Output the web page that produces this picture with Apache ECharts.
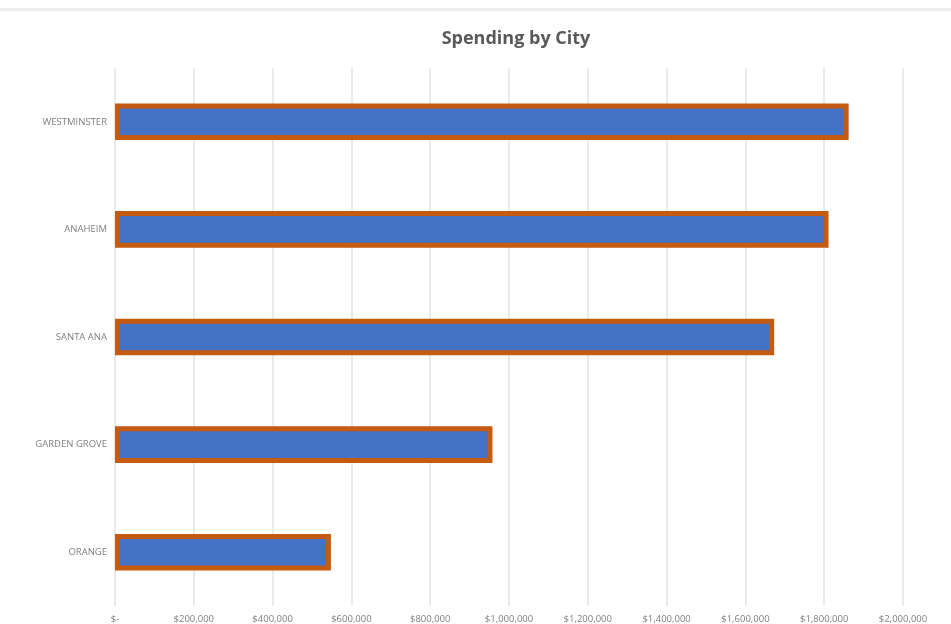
<!DOCTYPE html>
<html>
<head>
<meta charset="utf-8">
<script src="https://cdn.jsdelivr.net/npm/echarts@6/dist/echarts.min.js"></script>
<style>html,body{margin:0;padding:0;background:#fff;}#c{width:951px;height:624px;}</style>
</head>
<body>
<div id="c"></div>
<script>
const titleText = 'Spending by City';
const cities = ['ORANGE', 'GARDEN GROVE', 'SANTA ANA', 'ANAHEIM', 'WESTMINSTER'];
const spending = [548000, 958000, 1673000, 1811000, 1862000];
const axisMax = 2000000;
const axisStep = 200000;

const chart = echarts.init(document.getElementById('c'));
chart.setOption({
  backgroundColor: '#ffffff',
  title: {
    text: titleText,
    left: 511, top: 25, textAlign: 'center',
    textStyle: { fontFamily: 'Open Sans', fontWeight: 'bold', fontSize: 18, color: '#595959' }
  },
  graphic: [{
    type: 'rect', shape: { x: 0, y: 8, width: 951, height: 3 },
    style: { fill: '#ececec' }
  }],
  grid: { left: 115, right: 48, top: 68, bottom: 17, containLabel: false },
  xAxis: {
    type: 'value', min: 0, max: axisMax, interval: axisStep,
    axisLine: { show: false }, axisTick: { show: false },
    splitLine: { show: true, lineStyle: { color: '#e3e3e3', width: 1.5 } },
    axisLabel: {
      fontFamily: 'Open Sans', fontSize: 9.5, color: '#7f7f7f', margin: 8,
      formatter: v => v === 0 ? '$-' : '$' + v.toLocaleString('en-US')
    }
  },
  yAxis: {
    type: 'category', data: cities,
    axisLine: { show: false }, axisTick: { show: false },
    axisLabel: { fontFamily: 'Open Sans', fontSize: 9.5, color: '#7f7f7f', margin: 8 }
  },
  series: [{
    type: 'bar', data: spending, barWidth: '34%',
    itemStyle: { color: '#4472C4', borderColor: '#C55A11', borderWidth: 5 }
  }]
});
</script>
</body>
</html>
